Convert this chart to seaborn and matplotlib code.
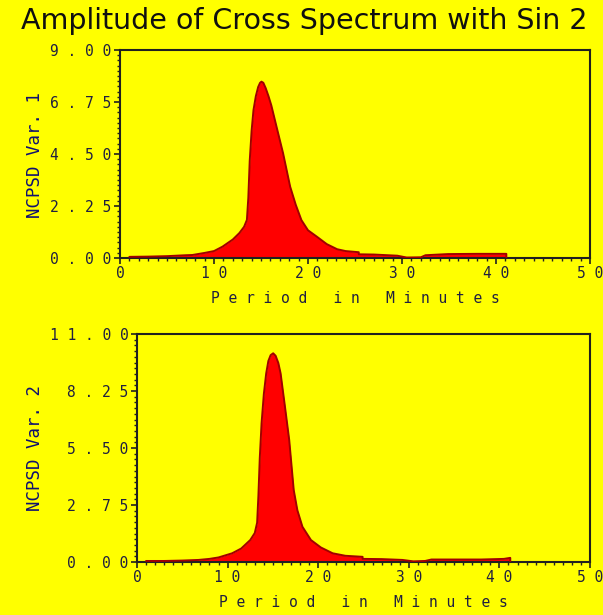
import matplotlib
matplotlib.use("Agg")
import matplotlib.pyplot as plt
import seaborn as sns
import numpy as np
import pandas as pd
from matplotlib.ticker import MultipleLocator, FixedLocator

# ---- data ----
title = "Amplitude of Cross Spectrum with Sin 2"
x_label = "Period in Minutes"
y_label_1 = "NCPSD Var. 1"
y_label_2 = "NCPSD Var. 2"

period_1 = [1.0, 3.0, 5.0, 7.0, 7.7, 9.0, 10.0, 10.9, 12.0, 12.7, 13.2, 13.5, 13.65, 13.8, 14.0,
            14.2, 14.45, 14.7, 14.9, 15.05, 15.25, 15.5, 15.8, 16.1, 16.7, 17.35, 18.1, 18.7,
            19.3, 20.0, 20.95, 22.0, 23.1, 24.0, 25.4, 25.4, 27.0, 29.5, 30.5, 32.0, 32.5,
            34.9, 38.0, 41.1, 41.1]
ncpsd_1 = [0.05, 0.06, 0.08, 0.12, 0.13, 0.22, 0.30, 0.49, 0.80, 1.08, 1.35, 1.65, 2.6, 4.2, 5.5,
           6.4, 7.0, 7.4, 7.58, 7.63, 7.58, 7.35, 7.0, 6.6, 5.6, 4.53, 3.09, 2.3,
           1.64, 1.2, 0.92, 0.6, 0.38, 0.30, 0.25, 0.16, 0.15, 0.10, 0.02, 0.03, 0.12,
           0.17, 0.18, 0.18, 0.0]

period_2 = [1.0, 3.0, 5.0, 6.8, 8.0, 9.0, 10.5, 11.5, 12.5, 13.0, 13.26, 13.4, 13.55, 13.75,
            14.0, 14.26, 14.5, 14.75, 15.03, 15.3, 15.6, 15.85, 16.3, 16.8, 17.3, 17.7,
            18.26, 19.2, 20.3, 21.6, 23.0, 24.9, 24.9, 27.0, 29.3, 30.5, 31.8, 32.5, 38.0,
            40.5, 41.2, 41.2]
ncpsd_2 = [0.05, 0.05, 0.07, 0.10, 0.15, 0.22, 0.42, 0.65, 1.06, 1.40, 1.90, 3.2, 5.0, 6.7,
           8.1, 9.1, 9.7, 9.98, 10.07, 9.95, 9.6, 9.1, 7.6, 5.89, 3.47, 2.5,
           1.70, 1.06, 0.70, 0.42, 0.30, 0.25, 0.15, 0.14, 0.10, 0.03, 0.05, 0.12, 0.12,
           0.15, 0.20, 0.0]

x_ticks = [0, 10, 20, 30, 40, 50]
y_ticks_1 = [0.0, 2.25, 4.50, 6.75, 9.00]
y_ticks_2 = [0.0, 2.75, 5.50, 8.25, 11.00]

# ---- style ----
sns.set_theme(style="ticks")
YEL = "#FFFF00"
plt.rcParams["font.family"] = ["DejaVu Sans"]

W, H = 603, 615
fig = plt.figure(figsize=(W / 100, H / 100), dpi=100, facecolor=YEL)

def spaced(s):
    return " ".join(s)

def fmt2(v):
    return spaced(f"{v:.2f}")

TICK_COLOR = "#202040"
LABEL_COLOR = "#101070"
MONO = "DejaVu Sans Mono"

def make_axes(rect, xs, ys, yticks, ylabel, ylabel_y):
    ax = fig.add_axes(rect)
    ax.set_facecolor(YEL)
    df = pd.DataFrame({"period": xs, "ncpsd": ys})
    ax.fill_between(df["period"], 0, df["ncpsd"], color="#FF0000", linewidth=0, zorder=2)
    sns.lineplot(data=df, x="period", y="ncpsd", ax=ax, color="#A00000",
                 linewidth=1.4, sort=False, estimator=None, zorder=3)
    ax.set_xlim(0, 50)
    ax.set_ylim(0, yticks[-1])
    ax.xaxis.set_major_locator(FixedLocator(x_ticks))
    ax.xaxis.set_minor_locator(MultipleLocator(1))
    ax.yaxis.set_major_locator(FixedLocator(yticks))
    ax.yaxis.set_minor_locator(MultipleLocator(yticks[1] / 10))
    ax.set_xticklabels([spaced(str(t)) for t in x_ticks], family=MONO, fontsize=10.5,
                       color=TICK_COLOR)
    ax.set_yticklabels([fmt2(t) for t in yticks], family=MONO, fontsize=10.5,
                       color=TICK_COLOR)
    ax.tick_params(axis="both", which="major", length=4, width=1.2, color="#202020",
                   direction="out", pad=2)
    ax.tick_params(axis="both", which="minor", length=2, width=1.0, color="#202020",
                   direction="out")
    for sp in ax.spines.values():
        sp.set_visible(True)
        sp.set_color("#202020")
        sp.set_linewidth(1.5)
    ax.set_xlabel("P e r i o d   i n   M i n u t e s", family=MONO, fontsize=10.5,
                  color=TICK_COLOR, labelpad=7)
    ax.set_ylabel("")
    fig.text(35 / W, ylabel_y, ylabel, rotation=90, family=MONO, fontsize=12.5,
             color=LABEL_COLOR, ha="center", va="center")
    return ax

ax1 = make_axes([120 / W, 1 - 258 / H, (590 - 120) / W, (258 - 50) / H],
                period_1, ncpsd_1, y_ticks_1, y_label_1, 1 - 155 / H)
ax2 = make_axes([137 / W, 1 - 562 / H, (590 - 137) / W, (562 - 334) / H],
                period_2, ncpsd_2, y_ticks_2, y_label_2, 1 - 448 / H)

fig.text(0.505, 1 - 21 / H, title, ha="center", va="center", fontsize=20.5,
         color="#101010", family="DejaVu Sans")

fig.savefig("out.png", dpi=100, facecolor=YEL)
